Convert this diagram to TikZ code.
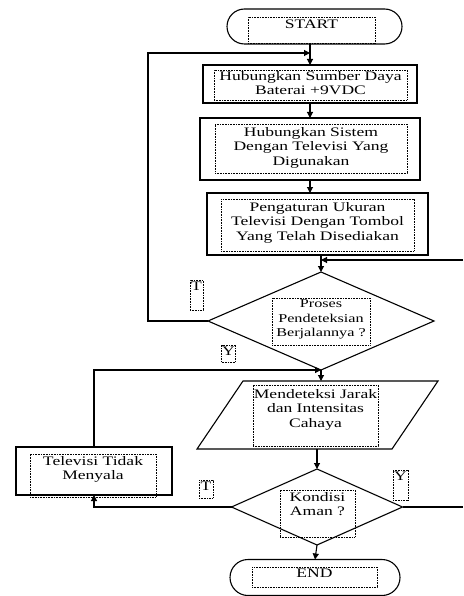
\documentclass[tikz,border=0pt]{standalone}
\usepackage{fontspec}
\setmainfont[FakeStretch=1.35]{Liberation Serif}
\usetikzlibrary{shapes.geometric,shapes.misc,arrows.meta}
\newcommand{\ftext}[4]{\parbox[c][#2pt][t]{#1pt}{\centering\vspace*{#3pt}#4\par}}
\tikzset{
  flow/.style={draw, line width=1.1pt, inner sep=0pt, outer sep=0pt, fill=white},
  term/.style={flow, rounded rectangle},
  proc/.style={flow, rectangle},
  dec/.style={flow, diamond},
  iobox/.style={rectangle, inner sep=0pt, outer sep=0pt},
  ioline/.style={draw, line width=1.1pt, fill=white},
  tf/.style={draw, dash pattern=on 0.8pt off 0.8pt, line width=0.6pt, inner sep=0pt, outer sep=0pt, font=\fontsize{13}{14.5}\selectfont},
  arr/.style={line width=1.1pt, -{Triangle[length=6pt,width=6pt]}},
  ln/.style={line width=1.1pt},
}
\begin{document}
\begin{tikzpicture}[x=1pt,y=-1pt]
\useasboundingbox[fill=white] (0,0) rectangle (463,596);
% shapes
\node[term, minimum width=175pt, minimum height=35pt] (start) at (314.5,26.5) {};
\node[proc, minimum width=214pt, minimum height=38pt] (b1) at (310,84) {};
\node[proc, minimum width=220pt, minimum height=62pt] (b2) at (310,149) {};
\node[proc, minimum width=221pt, minimum height=62pt] (b3) at (317.5,224) {};
\node[dec, minimum width=226pt, minimum height=98pt] (d1) at (321,321) {};
\node[iobox, minimum width=241pt, minimum height=68pt] (io) at (317.5,415) {};
\path[ioline] (io.south west) -- ([xshift=46pt]io.north west) -- (io.north east) -- ([xshift=-46pt]io.south east) -- cycle;
\node[proc, minimum width=156pt, minimum height=48pt] (tv) at (94,471) {};
\node[dec, minimum width=171pt, minimum height=76pt] (d2) at (317,507) {};
\node[term, minimum width=170pt, minimum height=36pt] (end) at (315,577.5) {};
% text frames
\node[tf] (tstart) at (311.5,30) {\ftext{127}{26}{3}{START}};
\node[tf] (tb1) at (310.5,85) {\ftext{193}{30}{1}{Hubungkan Sumber Daya\\Baterai +9VDC}};
\node[tf] (tb2) at (311,148.5) {\ftext{192}{49}{3}{Hubungkan Sistem\\Dengan Televisi Yang\\Digunakan}};
\node[tf] (tb3) at (317.5,225) {\ftext{193}{52}{3}{Pengaturan Ukuran\\Televisi Dengan Tombol\\Yang Telah Disediakan}};
\node[tf, font=\fontsize{12}{14.5}\selectfont] (td1) at (321,321.5) {\ftext{98}{47}{2}{Proses\\Pendeteksian\\Berjalannya ?}};
\node[tf] (tT1) at (196.5,295) {\ftext{13}{30}{2}{T}};
\node[tf] (tY1) at (228.5,353.5) {\ftext{14}{17}{2}{Y}};
\node[tf] (tio) at (315.5,415.5) {\ftext{125}{61}{4}{Mendeteksi Jarak\\dan Intensitas\\Cahaya}};
\node[tf] (ttv) at (93,475.5) {\ftext{126}{43}{2}{Televisi Tidak\\Menyala}};
\node[tf] (td2) at (317.5,513.5) {\ftext{75}{47}{2}{Kondisi\\Aman ?}};
\node[tf] (tT2) at (206,489) {\ftext{14}{18}{2}{T}};
\node[tf] (tY2) at (400.5,485) {\ftext{15}{30}{2}{Y}};
\node[tf] (tend) at (314.5,577) {\ftext{125}{20}{2}{END}};
% connectors
\coordinate (fb) at (148,53);
\coordinate (r1) at (463,260);
\coordinate (r2) at (463,507);
\draw[arr] (start.south -| b1.north) -- (b1.north);
\draw[arr] (d1.west) -| (fb) -- (fb -| b1.north);
\draw[arr] (b1.south) -- (b2.north);
\draw[arr] (b2.south) -- (b2.south |- b3.north);
\draw[arr] (d1.north |- b3.south) -- (d1.north);
\draw[arr] (r1) -- (r1 -| d1.north);
\draw[arr] (d1.south) -- (d1.south |- io.north);
\draw[arr] (tv.north) |- (d1.south);
\draw[arr] (io.south -| d2.north) -- (d2.north);
\draw[arr] (d2.west) -| (tv.south);
\draw[ln] (d2.east) -- (r2);
\draw[arr] (d2.south) -- (end.north);
\end{tikzpicture}
\end{document}
